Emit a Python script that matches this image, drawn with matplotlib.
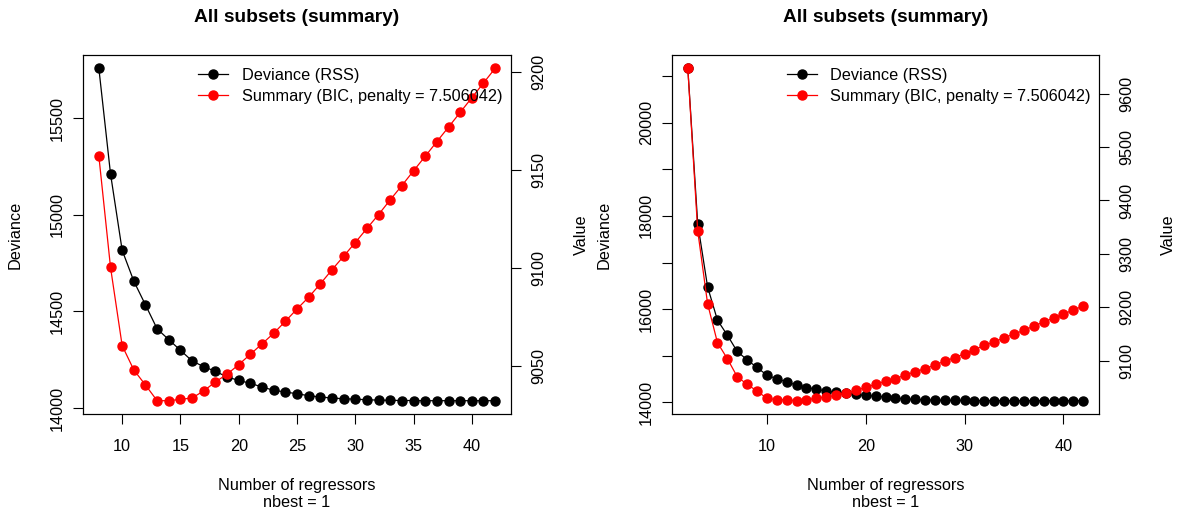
import matplotlib

matplotlib.use("Agg")
import matplotlib.pyplot as plt  # noqa: E402
import numpy as np  # noqa: E402

plt.rcParams["font.family"] = ["Liberation Sans", "DejaVu Sans"]

TITLE = "All subsets (summary)"
XLABEL = "Number of regressors\nnbest = 1"
LEGEND = ["Deviance (RSS)", "Summary (BIC, penalty = 7.506042)"]

# left panel: subset sizes 8..42
left_size = list(range(8, 43))
left_rss = [15759, 15213, 14817, 14657, 14534, 14410, 14354, 14299, 14244, 14214,
            14190, 14161, 14143, 14128, 14109, 14092, 14083, 14074, 14064, 14057,
            14052, 14048, 14046, 14043, 14041, 14040, 14039, 14039, 14038, 14038,
            14038, 14038, 14038, 14038, 14038]
left_bic = [9156.9, 9100.2, 9060.2, 9047.8, 9040.1, 9032.1, 9032.1, 9032.8, 9033.5, 9037.1,
            9041.7, 9045.6, 9050.5, 9055.8, 9061.1, 9066.5, 9072.6, 9078.9, 9084.9, 9091.7,
            9098.9, 9105.8, 9112.8, 9120.0, 9127.1, 9134.6, 9141.9, 9149.4, 9156.8, 9164.3,
            9171.7, 9179.2, 9186.7, 9194.2, 9201.7]
left_xticks = [10, 15, 20, 25, 30, 35, 40]
left_rss_ticks = [14000, 14500, 15000, 15500]
left_rss_labels = ["14000", "14500", "15000", "15500"]
left_bic_ticks = [9050, 9100, 9150, 9200]

# right panel: subset sizes 2..42
right_size = list(range(2, 43))
right_rss = [21164, 17836, 16479, 15764, 15443, 15093, 14914, 14750, 14586, 14507,
             14443, 14371, 14321, 14286, 14243, 14221, 14200, 14171, 14150, 14136,
             14118, 14093, 14079, 14064, 14057, 14050, 14047, 14045, 14043, 14042,
             14041, 14040, 14040, 14039, 14039, 14038, 14038, 14038, 14038, 14038,
             14038]
right_bic = [9647.4, 9343.4, 9206.7, 9133.7, 9103.7, 9070.0, 9055.7, 9043.2, 9029.5, 9027.0,
             9027.0, 9025.1, 9027.0, 9029.5, 9032.6, 9035.0, 9040.0, 9044.4, 9050.0, 9055.7,
             9061.6, 9066.3, 9073.2, 9079.4, 9085.0, 9091.9, 9099.4, 9105.6, 9113.1, 9120.6,
             9128.7, 9135.0, 9143.1, 9149.9, 9156.8, 9164.9, 9172.4, 9179.9, 9187.4, 9194.9,
             9202.4]
right_xticks = [10, 20, 30, 40]
right_rss_ticks = [14000, 15000, 16000, 17000, 18000, 19000, 20000, 21000]
right_rss_labels = ["14000", "", "16000", "", "18000", "", "20000", ""]
right_bic_ticks = [9100, 9200, 9300, 9400, 9500, 9600]

W, H = 1178, 514
FS = 11.7
TICK = dict(length=7.2, width=0.8, labelsize=FS)


def _lim(v):
    lo, hi = min(v), max(v)
    pad = 0.04 * (hi - lo)
    return lo - pad, hi + pad


def panel(fig, rect, x, rss, bic, xticks, rss_ticks, rss_labels, bic_ticks, leg_x):
    ax = fig.add_axes(rect)
    ax.plot(x, rss, "-o", color="black", lw=0.9, ms=6.5, label=LEGEND[0])
    ax.set_xlim(*_lim(x))
    ax.set_ylim(*_lim(rss))
    ax.set_xticks(xticks)
    ax.set_yticks(rss_ticks)
    ax.set_yticklabels(rss_labels)
    ax.tick_params(axis="x", pad=10.5, **TICK)
    ax.tick_params(axis="y", pad=6.0, labelrotation=90, **TICK)
    plt.setp(ax.get_yticklabels(), va="center")
    for s in ax.spines.values():
        s.set_linewidth(0.8)

    ax2 = ax.twinx()
    ax2.plot(x, bic, "-o", color="red", lw=0.9, ms=6.5, label=LEGEND[1])
    ax2.set_ylim(*_lim(bic))
    ax2.set_yticks(bic_ticks)
    ax2.tick_params(axis="y", pad=7.5, labelrotation=90, **TICK)
    plt.setp(ax2.get_yticklabels(), va="center")
    for s in ax2.spines.values():
        s.set_linewidth(0.8)

    h1, l1 = ax.get_legend_handles_labels()
    h2, l2 = ax2.get_legend_handles_labels()
    ax2.legend(h1 + h2, l1 + l2, loc="upper right", bbox_to_anchor=(leg_x, 0.965),
               frameon=False, fontsize=FS, borderpad=0, borderaxespad=0,
               handlelength=1.8, handletextpad=0.85, labelspacing=0.4)
    return ax, ax2


fig = plt.figure(figsize=(W / 100, H / 100), dpi=100)

panels = [
    ((83, 511), left_size, left_rss, left_bic, left_xticks, left_rss_ticks, left_rss_labels,
     left_bic_ticks, 0.979, 15, 581),
    ((672, 1099), right_size, right_rss, right_bic, right_xticks, right_rss_ticks,
     right_rss_labels, right_bic_ticks, 0.981, 604, 1168),
]
top, bottom = 55, 414
for (x0, x1), x, rss, bic, xt, rt, rl, bt, lx, dev_x, val_x in panels:
    rect = [x0 / W, 1 - bottom / H, (x1 - x0) / W, (bottom - top) / H]
    panel(fig, rect, x, rss, bic, xt, rt, rl, bt, lx)
    cx = (x0 + x1) / 2 / W
    fig.text(cx, 1 - 18 / H, TITLE, ha="center", va="center", fontsize=13.8, fontweight="bold")
    fig.text(cx, 1 - 494 / H, XLABEL, ha="center", va="center", fontsize=FS, linespacing=1.2)
    fig.text(dev_x / W, 1 - 235 / H, "Deviance", rotation=90, ha="center", va="center", fontsize=FS)
    fig.text(val_x / W, 1 - 235 / H, "Value", rotation=90, ha="center", va="center", fontsize=FS)

fig.savefig("out.png", dpi=100)
plt.close(fig)
